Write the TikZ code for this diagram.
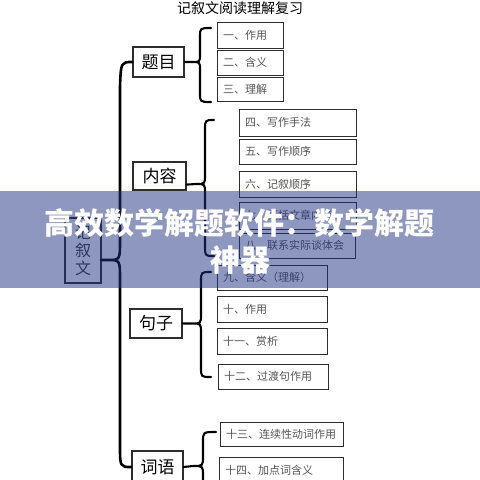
\documentclass[tikz,border=0pt]{standalone}
\usepackage{fontspec}
\setmainfont{Noto Sans CJK SC}
\definecolor{bannerc}{RGB}{29,49,129}
\definecolor{boxline}{RGB}{45,45,45}
\definecolor{boxtext}{RGB}{85,85,85}
\tikzset{
  lbox/.style={draw=boxline, line width=1.2pt, inner sep=0pt, fill=white,
    font=\fontsize{17}{17}\selectfont},
  sbox/.style 2 args={draw=boxline, line width=1pt, inner xsep=6pt, inner ysep=0pt,
    align=left, text=boxtext, fill=white, text width=#1, minimum height=#2,
    font=\fontsize{11}{11}\selectfont},
  brc/.style={line width=2.1pt, line join=round, line cap=round},
  bigbrc/.style={line width=2.6pt, line join=round, line cap=round},
  banner/.style={fill=bannerc, fill opacity=0.5},
  bannertext/.style={text=white, font=\fontsize{30}{30}\selectfont\bfseries, inner sep=0pt}
}
\begin{document}
\begin{tikzpicture}[x=1pt,y=-1pt]
\useasboundingbox (0,0) rectangle (480,480);
\fill[white] (0,0) rectangle (480,480);

% title
\node[font=\fontsize{14}{14}\selectfont, inner sep=0pt] (title) at (240,8) {记叙文阅读理解复习};

% main category boxes
\node[lbox, minimum width=51pt, minimum height=30pt] (t) at (158.5,62) {题目};
\node[lbox, minimum width=53pt, minimum height=28pt] (n) at (159.5,176) {内容};
\node[lbox, minimum width=52pt, minimum height=29pt] (s) at (156,323.5) {句子};
\node[lbox, minimum width=51pt, minimum height=32pt] (c) at (157.5,467) {词语};
\node[lbox, minimum width=36pt, minimum height=65pt, align=center,
  font=\fontsize{16}{18}\selectfont, text=black!75] (j) at (83,250.5) {记\\叙\\文};

% item boxes
\node[sbox={54pt}{26pt}] (b1) at (250,35) {一、作用};
\node[sbox={54pt}{25pt}] (b2) at (250,62.5) {二、含义};
\node[sbox={54pt}{24pt}] (b3) at (250,89) {三、理解};

\node[sbox={105pt}{27pt}] (b4) at (297.5,122.5) {四、写作手法};
\node[sbox={105pt}{25pt}] (b5) at (297.5,151.5) {五、写作顺序};
\node[sbox={105pt}{26pt}] (b6) at (297.5,184) {六、记叙顺序};
\node[sbox={105pt}{27pt}] (b7) at (297.5,215.5) {七、概括文章内容};
\node[sbox={104pt}{25pt}] (b8) at (297,245.5) {八、联系实际谈体会};

\node[sbox={98pt}{25pt}] (b9) at (272,277.5) {九、含义（理解）};
\node[sbox={98pt}{26pt}] (b10) at (272,309) {十、作用};
\node[sbox={98pt}{26pt}] (b11) at (272,341) {十一、赏析};
\node[sbox={98pt}{25pt}] (b12) at (273,376.5) {十二、过渡句作用};

\node[sbox={111pt}{24pt}] (b13) at (281.5,434) {十三、连续性动词作用};
\node[sbox={112pt}{26pt}] (b14) at (281,470) {十四、加点词含义};

% small braces
\draw[brc] (t.east) -- (192,62) .. controls (200,62) .. (200,54) -- (200,37) .. controls (200,28) .. (211,28)
  (192,62) .. controls (200,62) .. (200,70) -- (200,93) .. controls (200,102) .. (211,102);

\draw[brc] (n.south east) ++(0,-6) -- (196,184) .. controls (205,184) .. (205,175) -- (205,130) .. controls (205,120) .. (214,120)
  (196,184) .. controls (205,184) .. (205,193) -- (205,246) .. controls (205,256) .. (214,256);

\draw[brc] (s.east) -- (192,323.5) .. controls (201,323.5) .. (201,314) -- (201,282) .. controls (201,272) .. (211,272)
  (192,323.5) .. controls (201,323.5) .. (201,333) -- (201,367) .. controls (201,377) .. (211,377);

\draw[brc] (c.east) -- (193,466) .. controls (203,466) .. (203,456) -- (203,442) .. controls (203,432) .. (216,432)
  (193,466) .. controls (203,466) .. (203,476) -- (203,492) .. controls (203,502) .. (216,502);

% big brace
\coordinate (jc) at (101,260);
\draw[bigbrc] (t.west) .. controls (121,62) .. (120,86) -- (120,240) .. controls (120,260) .. (108,260) -- (jc)
  (108,260) .. controls (120,260) .. (120,280) -- (120,445) .. controls (120,467) .. (c.west);

% overlay banner
\fill[banner] (0,191) rectangle (480,288);
\node[bannertext] (bl1) at (240,223) {高效数学解题软件：数学解题};
\node[bannertext] (bl2) at (240,260) {神器};
\end{tikzpicture}
\end{document}
